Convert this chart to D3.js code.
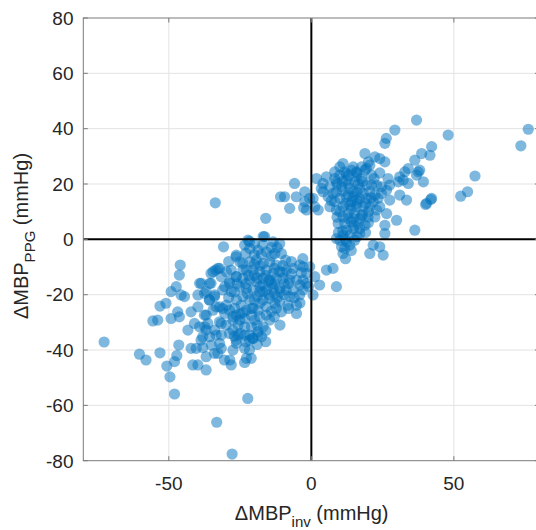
<!DOCTYPE html>
<html>
<head>
<meta charset="utf-8">
<script src="https://cdn.jsdelivr.net/npm/d3@7"></script>
<style>
  html, body { margin: 0; padding: 0; background: #fff; }
  svg { display: block; font-family: "Liberation Sans", Arial, Helvetica, sans-serif; }
</style>
</head>
<body>
<svg id="chart" width="536" height="530"></svg>
<script>
// Axis ticks
const xTicks = [-50, 0, 50];
const yTicks = [-80, -60, -40, -20, 0, 20, 40, 60, 80];

// Paired changes [ΔMBP_inv, ΔMBP_PPG] in mmHg, grouped by region
const lowerLeftTail = [
  [-46.0,-9.3],[-46.3,-12.9],[-33.6,-11.1],[-32.2,-10.5],[-35.2,-12.3],[-47.4,-17.1],[-49.2,-18.9],
  [-44.5,-20.7],[-45.7,-20.1],[-39.2,-15.9],[-35.2,-15.9],[-39.8,-20.1],[-37.5,-19.5],[-35.8,-21.9],
  [-34.0,-20.7],[-51.0,-23.1],[-53.1,-24.1],[-55.6,-29.5],[-53.9,-29.2],[-49.2,-28.6],[-46.9,-26.2],
  [-46.3,-28.0],[-42.2,-26.2],[-39.8,-24.4],[-37.5,-27.4],[-36.3,-30.4],[-43.3,-32.8],[-41.0,-30.4],
  [-39.2,-31.6],[-36.9,-32.8],[-38.1,-35.2],[-38.7,-36.4],[-35.7,-35.2],[-33.4,-34.6],[-32.2,-29.8],
  [-29.9,-31.0],[-60.3,-41.5],[-58.0,-43.6],[-53.1,-41.0],[-50.7,-45.8],[-47.2,-42.0],[-48.0,-44.2],
  [-46.5,-38.2],[-49.6,-49.7],[-42.2,-39.4],[-40.4,-39.4],[-38.1,-39.1],[-36.9,-42.4],[-41.6,-45.4],
  [-39.8,-45.4],[-36.9,-47.2],[-34.0,-41.2],[-31.6,-39.4],[-30.5,-43.6],[-28.1,-45.4],[-27.5,-40.0],
  [-26.4,-36.4],[-28.7,-34.0],[-27.5,-29.2],[-26.4,-27.4],[-28.7,-25.6],[-31.1,-25.0],[-33.4,-24.4],
  [-31.1,-18.3],[-28.7,-15.9],[-26.4,-13.5],[-26.4,-6.3],
  [-48.0,-55.9],[-35.1,-38.2],[-32.8,-41.2],[-32.2,-37.6],[-26.3,-37.6],[-23.4,-39.4],[-22.8,-43.0],
  [-21.1,-43.0],[-21.7,-36.4],[-18.8,-34.6],[-28.6,-43.6],[-20.5,-35.8],[-21.7,-40.0],[-23.4,-44.5],
  [-27.0,-35.0],[-25.0,-34.0]
];

const lowerCore = [
  [-22.2,-0.3],[-19.9,-1.5],[-16.9,1.0],[-13.4,-0.9],[-11.1,-1.5],[-10.5,-5.1],[-12.8,-5.1],[-15.8,-4.5],
  [-18.7,-3.9],[-21.6,-3.3],[-23.4,-2.1],[-26.3,-5.7],[-25.1,-8.1],[-28.1,-11.1],[-29.8,-11.7],
  [-32.8,-10.5],[-34.5,-11.7],[-35.7,-21.9],[-38.6,-15.9],[-35.7,-15.9],[-36.9,-18.9],[-33.9,-20.1],
  [-30.4,-17.1],[-28.7,-15.3],[-31.6,-13.5],[-28.1,-18.9],[-29.8,-23.8],[-30.4,-26.8],[-26.9,-24.9],
  [-27.5,-27.9],[-25.1,-29.2],[-27.5,-32.8],[-31.6,-30.4],[-33.9,-32.8],[-37.4,-31.6],[-23.4,-28.6],
  [-22.8,-25.6],[-20.5,-24.9],[-18.7,-25.6],[-18.1,-27.9],[-15.8,-27.4],[-19.9,-29.2],[-21.0,-31.6],
  [-18.7,-33.4],[-23.4,-34.6],[-25.7,-34.6],[-14.6,-29.2],[-10.5,-26.2],[-11.1,-22.5],[-8.2,-23.8],
  [-5.2,-26.8],[-5.2,-23.8],[-7.6,-20.7],[-4.1,-20.1],[-2.9,-18.3],[0.6,-20.1],[1.2,-13.5],
  [2.9,-16.5],[5.3,-11.1],[7.6,-10.5],[8.8,-17.1],[-0.6,-9.9],[-1.7,-12.3],[-2.9,-9.9],[-4.1,-9.3],
  [-6.4,-10.5],[-8.8,-11.1],[-11.1,-11.7],[-13.4,-12.3],[-15.8,-11.1],[-18.1,-11.7],[-20.5,-11.1],
  [-22.8,-11.1],[-24.0,-8.7],[-21.6,-8.1],[-19.3,-7.5],[-16.9,-8.7],[-14.6,-8.1],[-12.3,-9.3],
  [-26.3,-13.5],[-24.0,-14.1],[-21.6,-14.7],[-19.3,-15.3],[-16.9,-14.1],[-14.6,-14.7],[-12.3,-14.1],
  [-10.0,-14.1],[-7.6,-14.7],[-5.2,-14.7],[-2.9,-14.7],[-1.7,-15.9],[-25.1,-17.1],[-22.8,-17.7],
  [-20.5,-18.3],[-18.1,-18.9],[-15.8,-18.3],[-13.4,-17.7],[-11.1,-17.7],[-8.8,-18.3],[-6.4,-18.3],
  [-24.0,-20.7],[-21.6,-21.9],[-16.9,-21.9],[-14.6,-21.3],[-12.8,-23.1],[-15.8,-24.4],
  [-26.3,-21.9],[-24.6,-23.8],[-32.2,-24.4],[-34.5,-25.6],[-36.9,-27.4],[-21.6,-34.6],[-23.4,-31.6],
  [-25.7,-31.0],[-16.9,-31.6],[-12.3,-24.9],[-17.5,-35.2],[-20.5,-35.8],[-31.6,-34.6],
  [-21.7,-0.8],[-16.4,1.0],
  [-17.5,-5.5],[-14.0,-3.0],[-9.0,-7.5],[-7.0,-12.5],[-3.5,-12.0],[-20.0,-5.5],[-23.0,-5.0],
  [-18.0,-9.5],[-13.0,-10.5],[-10.0,-9.5],[-20.0,-13.0],[-17.0,-16.5],[-14.0,-16.0],[-9.5,-16.0],
  [-4.0,-16.5],[-22.5,-19.5],[-19.0,-20.5],[-13.0,-19.5],[-9.5,-20.0],[-18.0,-23.0],[-14.0,-26.0],
  [-27.0,-19.0],[-29.0,-21.0],[-24.0,-26.5],[-21.0,-27.5],[-19.0,-31.0],[-16.0,-33.0],
  [-22.0,-13.0],[-19.0,-14.0],[-16.0,-13.0],[-13.0,-16.0],[-11.0,-19.0],[-8.0,-16.0],[-6.0,-21.0],
  [-18.0,-17.0],[-15.0,-20.0],[-12.0,-21.0],[-20.0,-22.0],[-17.0,-19.0],[-23.0,-16.0],[-26.0,-16.0],
  [-10.0,-12.0],[-7.0,-8.0],[-3.0,-7.0],[-1.0,-17.0],[-4.0,-23.0],[-8.0,-25.0],[-14.0,-6.0],
  [-17.0,-2.0],[-12.0,-3.0],[-24.0,-11.0],[-20.0,-9.0],[-29.0,-8.0],[-15.0,-15.0],[-21.0,-25.0],
  [-25.0,-27.0],[-13.0,-28.0],[-11.0,-31.0],[-16.0,-37.0],[-19.0,-38.0],[-23.0,-37.0]
];

const upperCluster = [
  [36.9,43.1],[29.3,39.5],[48.0,37.7],[26.3,36.5],[25.8,34.7],[42.2,33.5],[41.6,30.4],[38.7,31.0],
  [36.3,28.6],[18.8,31.0],[22.3,29.8],[24.0,29.2],[25.8,28.0],[20.5,26.8],[19.3,25.6],[17.6,26.2],
  [21.1,23.2],[11.1,27.4],[10.0,26.2],[8.2,24.4],[11.7,24.4],[14.1,25.0],[15.8,24.4],[34.0,25.6],
  [32.8,24.4],[37.5,24.4],[36.9,23.2],[31.0,22.6],[30.5,20.8],[32.2,21.4],[34.0,20.2],[39.3,20.8],
  [26.9,22.0],[27.5,19.6],[24.6,19.0],[26.4,17.8],[31.0,16.0],[33.4,14.2],[42.2,14.8],[40.4,13.0],
  [27.5,14.2],[26.4,9.3],[29.9,6.9],[36.3,3.3],[25.8,5.1],[25.8,2.1],[21.7,-2.1],[24.0,-2.7],
  [20.5,-5.1],[25.2,-5.7],[4.1,20.2],[3.5,18.4],[-2.3,17.2],[-5.3,15.4],[-2.3,13.6],[-0.6,14.8],
  [1.2,11.8],[2.4,10.6],[-1.7,10.6],[-7.6,11.2],
  [6.5,19.0],[7.6,16.6],[8.8,20.8],[10.6,19.0],[12.3,21.4],[13.5,18.4],[15.2,20.8],[17.0,18.4],
  [17.6,22.0],[19.3,19.6],[20.5,17.2],[22.3,16.0],[23.4,14.8],[21.7,13.6],[19.3,14.8],[17.0,14.8],
  [14.7,15.4],[12.3,15.4],[10.0,14.8],[8.2,13.6],[6.5,11.8],[8.8,10.6],[11.1,11.8],[13.5,12.4],
  [15.8,11.8],[18.2,11.8],[20.5,11.8],[22.9,10.6],[12.9,9.3],[15.2,9.3],[17.6,8.7],[19.9,8.1],
  [22.3,8.1],[11.1,8.1],[9.4,5.7],[11.7,5.7],[14.1,6.3],[16.4,5.7],[18.8,5.1],[12.3,3.3],[14.7,3.9],
  [17.0,3.9],[11.1,1.5],[13.5,1.5],[10.0,-0.3],[12.3,-0.9],[15.2,-0.3],[10.6,-2.7],[11.7,-3.3],
  [13.5,-2.1],[8.8,0.3],[8.2,22.0],[10.0,23.2],[12.3,23.8],[15.8,22.6],[18.8,25.0],[14.7,26.2],
  [5.3,22.6],[4.1,17.2],[5.9,15.4],[8.8,17.2],[14.7,17.2],[18.2,16.6],[24.6,16.6],[21.1,19.6],
  [22.9,19.6],[24.0,11.8],[15.8,14.2],[14.1,13.6],[17.0,7.5],[12.9,7.5],[14.7,7.5],[11.1,-5.1],
  [12.0,-7.0],[9.5,2.5],[16.0,1.0],[19.0,2.5],[20.0,10.0],[16.5,20.0],[13.0,20.0],[11.0,17.5],
  [-5.9,20.2],[-10.8,15.4],[-9.4,15.4],[-2.7,11.4],[0.6,14.8],[1.8,22.0],
  [14.0,11.0],[16.0,13.0],[18.0,9.0],[13.0,16.0],[19.0,13.0],[21.0,15.0],[16.0,17.0],[12.0,13.0],
  [10.0,10.0],[15.0,5.0],[17.0,2.0],[12.0,0.0],[14.0,-4.0],[11.0,3.0],[20.0,6.0],[9.0,8.0],
  [7.0,14.0],[18.0,21.0],[16.0,24.0],[13.0,23.0],[22.0,22.0],[24.0,24.0],[20.0,28.0],[9.0,20.0],
  [11.0,21.0],
  [38.0,25.0],[41.9,14.4],[40.1,12.6],[57.4,22.9],[54.8,17.2],[52.4,15.6],[73.5,33.8],[76.1,39.8]
];

const outliers = [
  [-72.7,-37.1],[-22.3,-57.5],[-33.2,-66.1],[-27.8,-77.6],[-33.7,13.2],[-16.0,7.6],[-30.8,-2.7]
];

const svg = d3.select("#chart");

const x = d3.scaleLinear().domain([-80, 80]).range([83.3, 539.4]);
const y = d3.scaleLinear().domain([-80, 80]).range([460.7, 18]);
const [x0, x1] = x.range();
const [y0, y1] = y.range();

// Grid
const grid = svg.append("g").attr("stroke", "#e3e3e3").attr("stroke-width", 1);
grid.selectAll("line.gx").data(xTicks.filter(t => t !== 0)).join("line")
  .attr("x1", d => x(d)).attr("x2", d => x(d)).attr("y1", y1).attr("y2", y0);
grid.selectAll("line.gy").data(yTicks.filter(t => t !== 0 && t !== 80 && t !== -80)).join("line")
  .attr("x1", x0).attr("x2", x1).attr("y1", d => y(d)).attr("y2", d => y(d));

// Points
const allPoints = [].concat(lowerLeftTail, lowerCore, upperCluster, outliers);
svg.append("g").selectAll("circle").data(allPoints).join("circle")
  .attr("cx", d => x(d[0])).attr("cy", d => y(d[1])).attr("r", 5.6)
  .attr("fill", "#0072BD").attr("fill-opacity", 0.5);

// Zero lines
svg.append("line").attr("x1", x(0)).attr("x2", x(0)).attr("y1", y1).attr("y2", y0)
  .attr("stroke", "#000").attr("stroke-width", 2);
svg.append("line").attr("x1", x0).attr("x2", x1).attr("y1", y(0)).attr("y2", y(0))
  .attr("stroke", "#000").attr("stroke-width", 2);

// Box and inward ticks on all sides
const axisColor = "#7a7a7a";
const tickLen = 4.5;
const axes = svg.append("g").attr("stroke", axisColor).attr("stroke-width", 1).attr("fill", "none");
axes.append("rect").attr("x", x0).attr("y", y1).attr("width", x1 - x0).attr("height", y0 - y1);
xTicks.forEach(t => {
  axes.append("line").attr("x1", x(t)).attr("x2", x(t)).attr("y1", y0).attr("y2", y0 - tickLen);
  axes.append("line").attr("x1", x(t)).attr("x2", x(t)).attr("y1", y1).attr("y2", y1 + tickLen);
});
yTicks.forEach(t => {
  axes.append("line").attr("x1", x0).attr("x2", x0 + tickLen).attr("y1", y(t)).attr("y2", y(t));
  axes.append("line").attr("x1", x1).attr("x2", x1 - tickLen).attr("y1", y(t)).attr("y2", y(t));
});

// Tick labels
const tickFont = 19, textColor = "#262626";
svg.append("g").selectAll("text").data(xTicks).join("text")
  .attr("x", d => x(d)).attr("y", 490).attr("text-anchor", "middle")
  .attr("font-size", tickFont).attr("fill", textColor).text(d => d);
svg.append("g").selectAll("text").data(yTicks).join("text")
  .attr("x", 73.5).attr("y", d => y(d) + 6.8).attr("text-anchor", "end")
  .attr("font-size", tickFont).attr("fill", textColor).text(d => d);

// Axis titles
const xl = svg.append("text").attr("x", 311.7).attr("y", 520).attr("text-anchor", "middle")
  .attr("font-size", 20).attr("fill", textColor);
xl.append("tspan").text("ΔMBP");
xl.append("tspan").attr("font-size", 15).attr("dy", 7).text("inv");
xl.append("tspan").attr("dy", -7).text(" (mmHg)");

const yl = svg.append("text").attr("transform", "translate(28,236) rotate(-90)")
  .attr("text-anchor", "middle").attr("font-size", 20).attr("fill", textColor);
yl.append("tspan").text("ΔMBP");
yl.append("tspan").attr("font-size", 15).attr("dy", 7).text("PPG");
yl.append("tspan").attr("dy", -7).text(" (mmHg)");
</script>
</body>
</html>
